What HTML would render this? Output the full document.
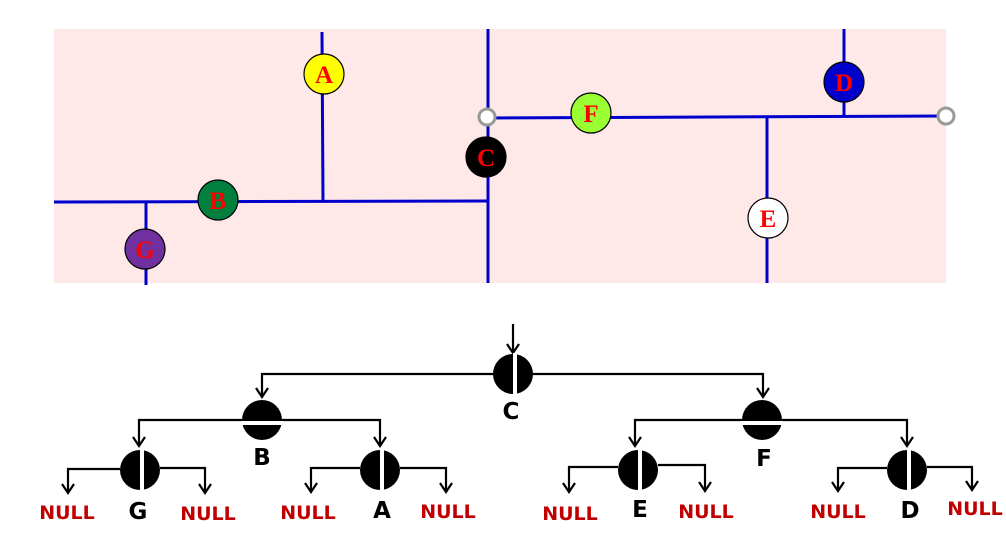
<!DOCTYPE html>
<html><head><meta charset="utf-8"><style>
html,body{margin:0;padding:0;background:#fff;}
svg{display:block;}
.nl{font-family:"DejaVu Sans","Liberation Sans",sans-serif;font-weight:bold;font-size:19px;fill:#c00000;text-anchor:middle;}
.lb{font-family:"DejaVu Sans","Liberation Sans",sans-serif;font-weight:bold;font-size:23px;fill:#000;text-anchor:middle;}
.nt{font-family:"Liberation Serif",serif;font-weight:bold;font-size:25px;fill:#ff0000;text-anchor:middle;}
</style></head><body>
<svg width="1006" height="534" viewBox="0 0 1006 534" xmlns="http://www.w3.org/2000/svg">
<rect x="54" y="29" width="892" height="254" fill="#fee8e8"/>
<g stroke="#0000cc" stroke-width="3" fill="none">
<line x1="488" y1="29" x2="488" y2="283"/>
<line x1="54" y1="202" x2="488" y2="201"/>
<line x1="322" y1="32" x2="323" y2="201"/>
<line x1="146" y1="202" x2="146" y2="285"/>
<line x1="487" y1="118" x2="946" y2="116"/>
<line x1="844" y1="29" x2="844" y2="116"/>
<line x1="767" y1="117" x2="767" y2="283"/>
</g>
<circle cx="487" cy="117" r="8" fill="#fff" stroke="#999" stroke-width="3"/>
<circle cx="946" cy="116" r="8" fill="#fff" stroke="#999" stroke-width="3"/>
<g stroke="#000" stroke-width="1.2">
<circle cx="324" cy="74" r="20" fill="#ffff00"/>
<circle cx="218" cy="200" r="20" fill="#00803c"/>
<circle cx="145" cy="249" r="20" fill="#7030a0"/>
<circle cx="486" cy="157" r="20" fill="#000"/>
<circle cx="591" cy="113" r="20" fill="#99ff33"/>
<circle cx="844" cy="82" r="20" fill="#0000cc"/>
<circle cx="768" cy="218" r="20" fill="#fff"/>
</g>
<text class="nt" x="324" y="83">A</text>
<text class="nt" x="218" y="209">B</text>
<text class="nt" x="145" y="258">G</text>
<text class="nt" x="486" y="166">C</text>
<text class="nt" x="591" y="122">F</text>
<text class="nt" x="844" y="91">D</text>
<text class="nt" x="768" y="227">E</text>

<g stroke="#000" stroke-width="2.2" fill="none">
<polyline points="513,324 513,353"/>
<polyline points="493,374 262,374 262,397"/>
<polyline points="533,374 763,374 763,397"/>
<polyline points="242,420 139,420 139,446"/>
<polyline points="282,420 380,420 380,446"/>
<polyline points="742,420 635,420 635,446"/>
<polyline points="782,420 907,420 907,446"/>
<polyline points="120,469 68,469 68,493"/>
<polyline points="160,468 205,468 205,493"/>
<polyline points="360,468 311,468 311,492"/>
<polyline points="400,468 446,468 446,492"/>
<polyline points="618,467 569,467 569,492"/>
<polyline points="658,465 705,465 705,491"/>
<polyline points="887,468 838,468 838,491"/>
<polyline points="927,467 972,467 972,490"/>
<path d="M507,344 L513,353 L519,344"/>
<path d="M256,388 L262,397 L268,388"/>
<path d="M757,388 L763,397 L769,388"/>
<path d="M133,437 L139,446 L145,437"/>
<path d="M374,437 L380,446 L386,437"/>
<path d="M629,437 L635,446 L641,437"/>
<path d="M901,437 L907,446 L913,437"/>
<path d="M62,484 L68,493 L74,484"/>
<path d="M199,484 L205,493 L211,484"/>
<path d="M305,483 L311,492 L317,483"/>
<path d="M440,483 L446,492 L452,483"/>
<path d="M563,483 L569,492 L575,483"/>
<path d="M699,482 L705,491 L711,482"/>
<path d="M832,482 L838,491 L844,482"/>
<path d="M966,481 L972,490 L978,481"/>
</g>
<g>
<circle cx="513" cy="374" r="20" fill="#000"/><rect x="513" y="353" width="4" height="42" fill="#fff"/>
<circle cx="140" cy="470" r="20" fill="#000"/><rect x="140" y="449" width="4" height="42" fill="#fff"/>
<circle cx="380" cy="470" r="20" fill="#000"/><rect x="380" y="449" width="4" height="42" fill="#fff"/>
<circle cx="638" cy="470" r="20" fill="#000"/><rect x="638" y="449" width="4" height="42" fill="#fff"/>
<circle cx="907" cy="470" r="20" fill="#000"/><rect x="907" y="449" width="4" height="42" fill="#fff"/>
<circle cx="262" cy="420" r="20" fill="#000"/><rect x="241" y="421" width="42" height="4" fill="#fff"/>
<circle cx="762" cy="420" r="20" fill="#000"/><rect x="741" y="421" width="42" height="4" fill="#fff"/>
</g>
<text class="lb" x="511" y="419">C</text>
<text class="lb" x="262" y="465">B</text>
<text class="lb" x="764" y="466">F</text>
<text class="lb" x="138" y="519">G</text>
<text class="lb" x="382" y="518">A</text>
<text class="lb" x="640" y="517">E</text>
<text class="lb" x="910" y="518">D</text>
<text class="nl" x="67" y="519">NULL</text>
<text class="nl" x="208" y="520">NULL</text>
<text class="nl" x="308" y="519">NULL</text>
<text class="nl" x="448" y="518">NULL</text>
<text class="nl" x="570" y="520">NULL</text>
<text class="nl" x="706" y="518">NULL</text>
<text class="nl" x="838" y="518">NULL</text>
<text class="nl" x="975" y="515">NULL</text>
</svg>
</body></html>
